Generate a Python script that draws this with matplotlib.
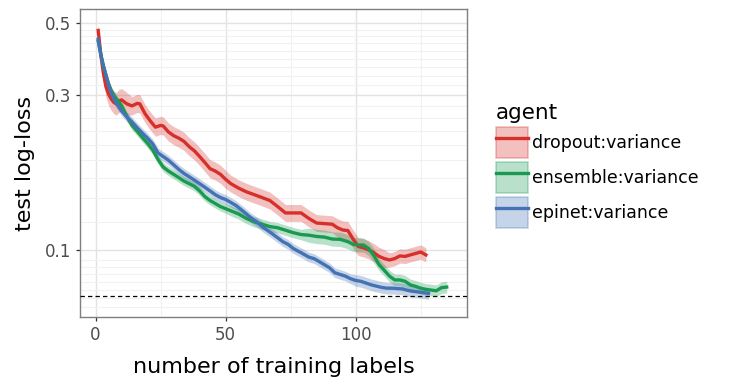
import matplotlib
matplotlib.use("Agg")
import matplotlib.pyplot as plt
import numpy as np
from matplotlib.lines import Line2D
from matplotlib.patches import Patch
from matplotlib.ticker import FixedLocator, NullFormatter

# ---- data (x = number of training labels) ----
dropout_x = [1, 2, 3, 4, 5, 6, 7, 8, 9, 10, 12, 14, 16, 17, 19, 21, 23, 25, 26, 28,
             30, 32, 34, 36, 38, 40, 42, 44, 46, 48, 50, 52, 55, 58, 61, 64, 67, 70, 73, 76,
             79, 82, 85, 88, 91, 93, 95, 97, 99, 101, 103, 105, 107, 109, 111, 113, 115, 117, 119, 121,
             123, 125, 127]
dropout_y = [0.475, 0.40, 0.35, 0.318, 0.302, 0.292, 0.285, 0.282, 0.288, 0.29,
             0.282, 0.278, 0.283, 0.282, 0.263, 0.250, 0.239, 0.242, 0.241, 0.231,
             0.225, 0.221, 0.216, 0.208, 0.202, 0.194, 0.186, 0.178, 0.175, 0.171,
             0.165, 0.160, 0.155, 0.151, 0.148, 0.145, 0.142, 0.136, 0.130, 0.130,
             0.130, 0.125, 0.121, 0.1205, 0.120, 0.117, 0.1152, 0.1147, 0.108, 0.1024,
             0.1015, 0.100, 0.098, 0.0955, 0.094, 0.0931, 0.094, 0.0958, 0.0955, 0.0965,
             0.0975, 0.0985, 0.0965]
# band half-width, in decades
dropout_se = [0.020, 0.022, 0.028, 0.032, 0.035, 0.035, 0.035, 0.035, 0.035, 0.035,
              0.035, 0.028, 0.028, 0.028, 0.028, 0.028, 0.028, 0.028, 0.028, 0.028,
              0.028, 0.028, 0.028, 0.028, 0.028, 0.028, 0.028, 0.028, 0.028, 0.028,
              0.028, 0.026, 0.026, 0.026, 0.026, 0.026, 0.026, 0.026, 0.026, 0.026,
              0.026, 0.026, 0.026, 0.026, 0.026, 0.028, 0.028, 0.028, 0.028, 0.028,
              0.028, 0.028, 0.028, 0.028, 0.028, 0.022, 0.022, 0.022, 0.022, 0.022,
              0.022, 0.022, 0.022]

ensemble_x = [1, 2, 3, 4, 5, 6, 7, 8, 10, 12, 14, 16, 18, 20, 22, 24, 26, 28, 30, 32,
              34, 36, 38, 40, 42, 44, 46, 48, 50, 52, 55, 58, 61, 64, 67, 70, 73, 76, 79, 82,
              85, 88, 91, 94, 97, 99, 101, 103, 105, 107, 109, 111, 113, 115, 117, 119, 121, 123, 125, 127,
              129, 131, 133, 135]
ensemble_y = [0.440, 0.400, 0.370, 0.345, 0.325, 0.310, 0.300, 0.292, 0.278, 0.258,
              0.242, 0.232, 0.222, 0.213, 0.203, 0.190, 0.180, 0.175, 0.171, 0.167,
              0.163, 0.160, 0.157, 0.152, 0.146, 0.142, 0.139, 0.136, 0.134, 0.132,
              0.129, 0.125, 0.122, 0.120, 0.118, 0.117, 0.115, 0.113, 0.1115, 0.111,
              0.110, 0.1095, 0.108, 0.1078, 0.106, 0.104, 0.1035, 0.1035, 0.101, 0.096,
              0.090, 0.0865, 0.083, 0.0808, 0.0808, 0.080, 0.078, 0.0772, 0.0762, 0.0755,
              0.0752, 0.0748, 0.0765, 0.0768]
ensemble_se = [0.012, 0.012, 0.012, 0.012, 0.012, 0.012, 0.012, 0.012, 0.014, 0.014,
               0.014, 0.014, 0.014, 0.014, 0.014, 0.014, 0.014, 0.014, 0.014, 0.014,
               0.014, 0.014, 0.014, 0.014, 0.014, 0.014, 0.014, 0.014, 0.014, 0.016,
               0.016, 0.016, 0.016, 0.016, 0.016, 0.016, 0.016, 0.016, 0.016, 0.022,
               0.022, 0.022, 0.022, 0.022, 0.022, 0.022, 0.022, 0.022, 0.022, 0.022,
               0.018, 0.018, 0.018, 0.018, 0.018, 0.018, 0.018, 0.018, 0.018, 0.018,
               0.018, 0.018, 0.018, 0.018]

epinet_x = [1, 2, 3, 4, 5, 6, 7, 8, 10, 12, 14, 16, 18, 20, 22, 24, 26, 28, 30, 32,
            34, 36, 38, 40, 42, 44, 46, 48, 50, 52, 54, 56, 58, 60, 62, 64, 66, 68, 70, 72,
            74, 76, 78, 80, 82, 84, 86, 88, 90, 92, 94, 96, 98, 100, 102, 104, 106, 108, 110, 112,
            114, 116, 118, 120, 122, 124, 126, 128]
epinet_y = [0.446, 0.400, 0.368, 0.345, 0.322, 0.305, 0.292, 0.283, 0.268, 0.257,
            0.248, 0.238, 0.229, 0.221, 0.212, 0.199, 0.194, 0.189, 0.183, 0.177,
            0.172, 0.168, 0.164, 0.160, 0.156, 0.152, 0.148, 0.145, 0.143, 0.140,
            0.137, 0.133, 0.129, 0.125, 0.122, 0.118, 0.115, 0.112, 0.109, 0.106,
            0.104, 0.101, 0.099, 0.097, 0.095, 0.094, 0.092, 0.090, 0.088, 0.085,
            0.084, 0.083, 0.0815, 0.0805, 0.080, 0.079, 0.078, 0.0773, 0.0766, 0.0762,
            0.0762, 0.076, 0.0758, 0.075, 0.0745, 0.0742, 0.0738, 0.0735]
epinet_se = [0.015] * 53 + [0.018] * 15

agents = ["dropout:variance", "ensemble:variance", "epinet:variance"]
colors = ["#d7302a", "#1a9a50", "#4472b4"]
baseline = 0.0721

x_ticks = [0, 50, 100]
x_minor = [25, 75, 125]
y_ticks = [0.1, 0.3, 0.5]
y_minor = [0.0665, 0.071, 0.0754, 0.0798, 0.0842, 0.0886, 0.0931,
           0.1222, 0.1444, 0.1667, 0.1889, 0.2111, 0.2333, 0.2556, 0.2778,
           0.3222, 0.3444, 0.3667, 0.3889, 0.4111, 0.4333, 0.4556, 0.4778]

series = [
    (dropout_x, dropout_y, dropout_se),
    (ensemble_x, ensemble_y, ensemble_se),
    (epinet_x, epinet_y, epinet_se),
]

fig = plt.figure(figsize=(7.3, 3.87), dpi=100)
ax = fig.add_axes([80 / 730, 70 / 387, 387 / 730, 308 / 387])
ax.set_yscale("log")

for (xs, ys, se), color in zip(series, colors):
    xs = np.asarray(xs)
    ys = np.asarray(ys)
    spread = 10 ** np.asarray(se)
    ax.fill_between(xs, ys / spread, ys * spread, color=color, alpha=0.3,
                    linewidth=0, zorder=2)
for (xs, ys, se), color in zip(series, colors):
    ax.plot(xs, ys, color=color, linewidth=2.4, zorder=3)

ax.axhline(baseline, color="black", linewidth=0.9, linestyle=(0, (3.5, 2.5)), zorder=4)

ax.set_xlim(-6, 142.8)
ax.set_ylim(0.0621, 0.553)
ax.xaxis.set_major_locator(FixedLocator(x_ticks))
ax.xaxis.set_minor_locator(FixedLocator(x_minor))
ax.yaxis.set_major_locator(FixedLocator(y_ticks))
ax.yaxis.set_minor_locator(FixedLocator(y_minor))
ax.set_yticklabels([f"{t:g}" for t in y_ticks])
ax.yaxis.set_minor_formatter(NullFormatter())

ax.grid(which="major", color="#e3e3e3", linewidth=1.0, zorder=0)
ax.grid(which="minor", color="#f1f1f1", linewidth=0.8, zorder=0)
ax.set_axisbelow(True)
ax.tick_params(which="major", direction="out", length=3, width=0.9,
               color="#333333", labelcolor="#4d4d4d", labelsize=12, pad=3.5)
ax.tick_params(which="minor", length=0)
for s in ax.spines.values():
    s.set_color("#7f7f7f")
    s.set_linewidth(1.0)

ax.set_xlabel("number of training labels", fontsize=16, labelpad=9)
ax.set_ylabel("test log-loss", fontsize=16, labelpad=7)

handles = [
    (Patch(facecolor=c, edgecolor=c, alpha=0.3, linewidth=1.2),
     Line2D([], [], color=c, linewidth=2.4))
    for c in colors
]
leg = fig.legend(handles, agents, loc="upper left",
                 bbox_to_anchor=(496 / 730, 1 - 103 / 387), frameon=False,
                 fontsize=12.5, title="agent", title_fontsize=15.5,
                 handlelength=1.84, handleheight=2.36, labelspacing=0.24,
                 handletextpad=0.25, borderpad=0, borderaxespad=0,
                 alignment="left")

fig.savefig("out.png", dpi=100)
